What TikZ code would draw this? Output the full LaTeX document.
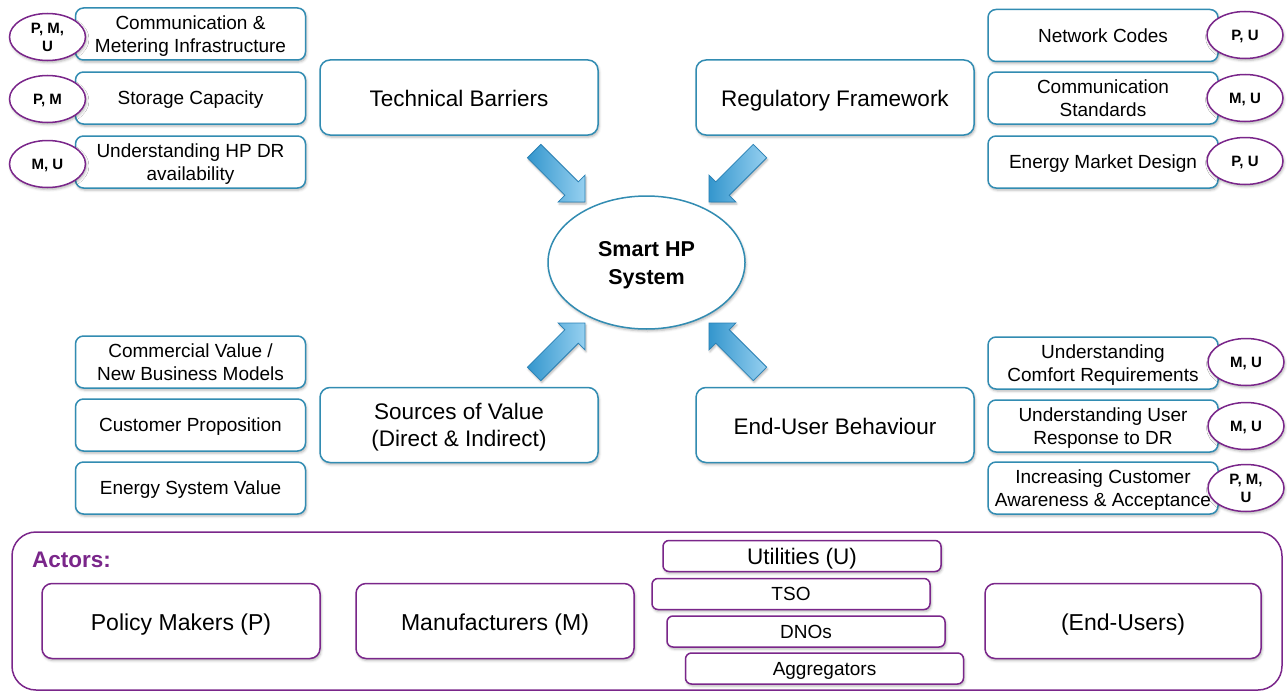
\documentclass[tikz,border=0pt]{standalone}
\usepackage{fontspec}
\setmainfont{Liberation Sans}
\usetikzlibrary{shapes.geometric,shadows.blur}

\definecolor{boxblue}{RGB}{50,140,178}
\definecolor{actpurple}{RGB}{122,38,138}
\definecolor{arrlight}{RGB}{150,208,240}
\definecolor{arrdark}{RGB}{52,150,205}
\definecolor{arredge}{RGB}{40,128,180}

\newcommand\fsz[2]{\fontsize{#1}{#2}\selectfont}

% block arrow: tip at (#1,#2), pointing in canvas direction #3
\newcommand\blockarrow[3]{%
  \begin{scope}[shift={(#1,#2)}, rotate=#3]
    \shade[left color=arrdark, right color=arrlight, draw=arredge, line width=0.8pt,
           blur shadow={shadow xshift=1pt, shadow yshift=-2pt, shadow blur radius=2pt, shadow opacity=30}]
      (0,0) -- (-19,19) -- (-19,9.5) -- (-72,9.5) -- (-72,-9.5) -- (-19,-9.5) -- (-19,-19) -- cycle;
  \end{scope}}

\begin{document}
\begin{tikzpicture}[x=1pt, y=-1pt,
  soft/.style={blur shadow={shadow xshift=1pt, shadow yshift=-2pt, shadow blur radius=2.5pt, shadow opacity=30}},
  txt/.style={align=center, inner sep=0pt, text depth=0pt},
  oneline/.style={text height=18pt},
  topic/.style={soft, txt, draw=boxblue, line width=1.5pt, fill=white, rounded corners=8pt,
    minimum width=230pt, minimum height=52pt, font=\fsz{19}{23}},
  theme/.style={soft, txt, draw=boxblue, line width=1.5pt, fill=white, rounded corners=10pt,
    minimum width=278pt, minimum height=75pt, font=\fsz{22.5}{27}},
  tag/.style={soft, txt, ellipse, draw=actpurple, line width=1.5pt, fill=white,
    minimum width=76pt, minimum height=47pt, font=\bfseries\fsz{15}{18}},
  actor/.style={soft, txt, oneline, draw=actpurple, line width=1.5pt, fill=white, rounded corners=10pt,
    minimum width=278pt, minimum height=75pt, font=\fsz{23}{27}},
  unit/.style={soft, txt, draw=actpurple, line width=1.5pt, fill=white, rounded corners=6pt,
    minimum width=278pt, minimum height=31pt, font=\fsz{19}{23}},
]
\useasboundingbox (0,0) rectangle (1287,693);

% central system
\node[soft, txt, ellipse, draw=boxblue, line width=1.5pt, fill=white,
      minimum width=197pt, minimum height=133pt,
      font=\bfseries\fsz{21.5}{28}] (hp) at (646.5,262.5) {Smart HP\\System};

% four themes
\node[theme, oneline] (tech) at (459,97.5)  {Technical Barriers};
\node[theme, oneline] (reg)  at (835,97.5)  {Regulatory Framework};
\node[theme] (val)  at (459,425)   {Sources of Value\\(Direct \& Indirect)};
\node[theme, oneline] (user) at (835,425)   {End-User Behaviour};

% arrows into the system
\blockarrow{585}{202}{-45}
\blockarrow{709}{202}{-135}
\blockarrow{585}{323}{45}
\blockarrow{709}{323}{135}

% technical barriers
\node[topic] (t1) at (190.5,34)  {Communication \&\\Metering Infrastructure};
\node[topic] (t2) at (190.5,98)  {Storage Capacity};
\node[topic] (t3) at (190.5,162) {Understanding HP DR\\availability};
\node[tag] (t1a) at (47.5,37) {P, M,\\U};
\node[tag] (t2a) at (47.5,99) {P, M};
\node[tag] (t3a) at (47.5,164) {M, U};

% regulatory framework
\node[topic] (r1) at (1103,35.5) {Network Codes};
\node[topic] (r2) at (1103,98)   {Communication\\Standards};
\node[topic] (r3) at (1103,162)  {Energy Market Design};
\node[tag] (r1a) at (1245,35)  {P, U};
\node[tag] (r2a) at (1245,98)  {M, U};
\node[tag] (r3a) at (1245,161) {P, U};

% sources of value
\node[topic] (v1) at (190.5,362) {Commercial Value /\\New Business Models};
\node[topic] (v2) at (190.5,425) {Customer Proposition};
\node[topic] (v3) at (190.5,488) {Energy System Value};

% end-user behaviour
\node[topic] (u1) at (1103,363) {Understanding\\Comfort Requirements};
\node[topic] (u2) at (1103,426) {Understanding User\\Response to DR};
\node[topic] (u3) at (1103,488) {Increasing Customer\\Awareness \& Acceptance};
\node[tag] (u1a) at (1246,362) {M, U};
\node[tag] (u2a) at (1246,426) {M, U};
\node[tag] (u3a) at (1246,488) {P, M,\\U};

% actors
\node[draw=actpurple, line width=1.5pt, rounded corners=24pt, inner sep=0pt,
      minimum width=1270pt, minimum height=158pt] (actors) at (647,611) {};
\node[anchor=west, text=actpurple, font=\bfseries\fsz{22.5}{27}, inner sep=0pt] (actlbl) at (32,560) {Actors:};
\node[actor] (pm)  at (181,621)  {Policy Makers (P)};
\node[actor] (man) at (495,621)  {Manufacturers (M)};
\node[actor, minimum width=276pt] (eu) at (1123,621) {(End-Users)};
\node[unit, font=\fsz{22.5}{27}] (util) at (802,556) {Utilities (U)};
\node[unit] (tso) at (791,594)   {TSO};
\node[unit] (dno) at (806,631.5) {DNOs};
\node[unit] (agg) at (824.5,668.5) {Aggregators};
\end{tikzpicture}
\end{document}
